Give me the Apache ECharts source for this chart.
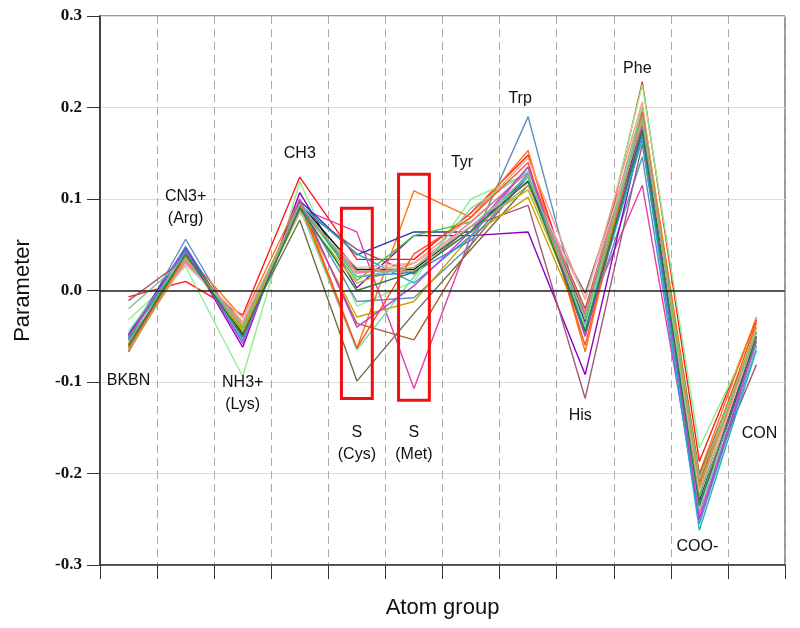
<!DOCTYPE html>
<html>
<head>
<meta charset="utf-8">
<script src="https://cdn.jsdelivr.net/npm/echarts@6/dist/echarts.min.js"></script>
<style>
  html, body { margin: 0; padding: 0; background: #fff; }
  #chart { width: 800px; height: 628px; }
</style>
</head>
<body>
<div id="chart"></div>
<script>
// atom groups along x
var groups = ['BKBN', 'CN3+ (Arg)', 'NH3+ (Lys)', 'CH3', 'S (Cys)', 'S (Met)', 'Tyr', 'Trp', 'His', 'Phe', 'COO-', 'CON']

// y axis ticks
var yTicks = [-0.3, -0.2, -0.1, 0.0, 0.1, 0.2, 0.3]

// one parameter set per line
var set01 = [-0.007, 0.010, -0.027, 0.124, 0.034, 0.034, 0.085, 0.148, -0.040, 0.228, -0.187, -0.032]
var set02 = [-0.032, 0.026, -0.094, 0.119, -0.017, 0.010, 0.100, 0.128, -0.030, 0.225, -0.172, -0.040]
var set03 = [-0.067, 0.040, -0.045, 0.077, -0.099, -0.025, 0.045, 0.115, -0.003, 0.185, -0.215, -0.055]
var set04 = [-0.050, 0.035, -0.040, 0.090, 0.064, -0.107, 0.060, 0.135, -0.030, 0.115, -0.240, -0.060]
var set05 = [-0.055, 0.056, -0.050, 0.095, -0.012, -0.008, 0.050, 0.190, -0.045, 0.146, -0.255, -0.060]
var set06 = [-0.050, 0.045, -0.062, 0.107, 0.003, 0.060, 0.060, 0.064, -0.092, 0.175, -0.245, -0.050]
var set07 = [-0.011, 0.035, -0.035, 0.090, 0.045, 0.018, 0.070, 0.093, -0.118, 0.160, -0.230, -0.081]
var set08 = [-0.060, 0.040, -0.030, 0.100, -0.063, 0.109, 0.080, 0.153, -0.067, 0.200, -0.200, -0.029]
var set09 = [-0.058, 0.038, -0.040, 0.095, -0.036, -0.054, 0.050, 0.125, -0.020, 0.190, -0.202, -0.045]
var set10 = [-0.048, 0.047, -0.050, 0.098, 0.039, 0.064, 0.064, 0.125, -0.035, 0.180, -0.230, -0.050]
var set11 = [-0.055, 0.042, -0.045, 0.092, 0.011, 0.060, 0.075, 0.130, -0.050, 0.190, -0.225, -0.040]
var set12 = [-0.050, 0.045, -0.048, 0.095, 0.023, 0.023, 0.070, 0.119, -0.025, 0.180, -0.220, -0.045]
var set13 = [-0.062, 0.036, -0.045, 0.088, -0.029, -0.012, 0.060, 0.102, -0.045, 0.190, -0.220, -0.040]
var set14 = [-0.065, 0.033, -0.042, 0.085, 0.008, 0.030, 0.070, 0.110, -0.038, 0.195, -0.210, -0.050]
var set15 = [-0.052, 0.043, -0.055, 0.094, 0.040, 0.008, 0.060, 0.128, -0.045, 0.165, -0.262, -0.065]
var set16 = [-0.058, 0.030, -0.035, 0.090, 0.019, 0.030, 0.080, 0.145, -0.010, 0.206, -0.235, -0.040]
var set17 = [-0.060, 0.032, -0.040, 0.090, 0.019, 0.025, 0.075, 0.130, -0.025, 0.200, -0.245, -0.055]
var set18 = [-0.050, 0.028, -0.030, 0.085, 0.025, 0.030, 0.070, 0.120, -0.008, 0.185, -0.220, -0.050]
var set19 = [-0.053, 0.048, -0.052, 0.092, 0.015, 0.020, 0.055, 0.125, -0.040, 0.170, -0.250, -0.060]
var set20 = [-0.045, 0.040, -0.050, 0.090, -0.065, 0.015, 0.090, 0.130, -0.040, 0.200, -0.240, -0.060]
var set21 = [-0.063, 0.038, -0.040, 0.095, -0.063, 0.040, 0.080, 0.140, -0.060, 0.195, -0.210, -0.035]
var set22 = [-0.050, 0.045, -0.058, 0.100, -0.040, 0.005, 0.065, 0.135, -0.050, 0.180, -0.250, -0.055]
var set23 = [-0.066, 0.035, -0.038, 0.088, 0.021, 0.021, 0.065, 0.115, -0.030, 0.185, -0.215, -0.045]
var set24 = [-0.020, 0.035, -0.040, 0.095, 0.015, 0.025, 0.070, 0.125, -0.030, 0.190, -0.205, -0.045]
var set25 = [-0.060, 0.040, -0.050, 0.090, 0.000, 0.020, 0.065, 0.120, -0.045, 0.175, -0.235, -0.050]

// highlighted sulfur groups: [group index, top, bottom]
var sulfurBoxes = [[4, 0.090, -0.118], [5, 0.127, -0.120]]

var lineSets = [set01, set02, set03, set04, set05, set06, set07, set08, set09, set10, set11, set12, set13,
  set14, set15, set16, set17, set18, set19, set20, set21, set22, set23, set24, set25]
var colors = ['#ff1a1a', '#8ef08e', '#6e6e4a', '#e23fae', '#5b8fc0', '#9000c0', '#a05878', '#ff7410', '#a5602c',
  '#3030b0', '#30d030', '#111111', '#d0a000', '#b5b520', '#20b0c0', '#f4a080', '#ff70a0', '#f0b0c0',
  '#4080e0', '#70e0a0', '#ff5020', '#c040e0', '#c0a060', '#80c080', '#208040']

// group labels drawn inside the plot: [group index, value, text, x shift px]
var groupLabels = [
  [0, -0.098, 'BKBN', 0],
  [1, 0.091, 'CN3+\n(Arg)', 0],
  [2, -0.113, 'NH3+\n(Lys)', 0],
  [3, 0.150, 'CH3', 0],
  [4, -0.167, 'S\n(Cys)', 0],
  [5, -0.167, 'S\n(Met)', 0],
  [6, 0.140, 'Tyr', -9],
  [7, 0.210, 'Trp', -8],
  [8, -0.137, 'His', -5],
  [9, 0.243, 'Phe', -5],
  [10, -0.280, 'COO-', -2],
  [11, -0.156, 'CON', 3]
]

var chart = echarts.init(document.getElementById('chart'))

var series = lineSets.map(function (d, i) {
  return {
    type: 'line',
    data: d,
    symbol: 'none',
    lineStyle: { color: colors[i], width: 1.4 },
    itemStyle: { color: colors[i] },
    z: 3
  }
})

// zero line
series[0].markLine = {
  silent: true,
  symbol: 'none',
  label: { show: false },
  lineStyle: { color: '#222', width: 1.5, type: 'solid' },
  data: [{ yAxis: 0 }]
}

series.push({
  type: 'custom',
  data: sulfurBoxes,
  z: 5,
  renderItem: function (params, api) {
    var top = api.coord([api.value(0), api.value(1)])
    var bot = api.coord([api.value(0), api.value(2)])
    var w = api.size([1, 0])[0] * 0.54
    return {
      type: 'rect',
      shape: { x: top[0] - w / 2, y: top[1], width: w, height: bot[1] - top[1] },
      style: { fill: 'none', stroke: '#ee1111', lineWidth: 3 }
    }
  }
})

series.push({
  type: 'custom',
  data: groupLabels,
  z: 6,
  renderItem: function (params, api) {
    var p = api.coord([api.value(0), api.value(1)])
    var lab = groupLabels[params.dataIndex]
    return {
      type: 'text',
      x: p[0] + lab[3],
      y: p[1],
      style: {
        text: lab[2],
        textAlign: 'center',
        textVerticalAlign: 'middle',
        font: '16px "Liberation Sans", Arial, sans-serif',
        lineHeight: 22,
        fill: '#111'
      }
    }
  }
})

chart.setOption({
  animation: false,
  backgroundColor: '#fff',
  grid: {
    left: 100,
    right: 15,
    top: 16,
    bottom: 63,
    show: true,
    borderColor: '#333',
    borderWidth: 1
  },
  xAxis: {
    type: 'category',
    data: groups,
    boundaryGap: true,
    name: 'Atom group',
    nameLocation: 'middle',
    nameGap: 32,
    nameTextStyle: { fontSize: 22, color: '#111', fontFamily: 'Liberation Sans' },
    axisLine: { onZero: false, lineStyle: { color: '#333', width: 1.5 } },
    axisTick: { show: true, interval: 0, length: 14, lineStyle: { color: '#333' } },
    axisLabel: { show: false, interval: 0 },
    splitLine: { show: true, interval: 0, lineStyle: { color: '#aaa', type: [8, 5], width: 1 } }
  },
  yAxis: {
    type: 'value',
    min: yTicks[0],
    max: yTicks[yTicks.length - 1],
    interval: 0.1,
    name: 'Parameter',
    nameLocation: 'middle',
    nameRotate: 90,
    nameGap: 66,
    nameTextStyle: { fontSize: 22, color: '#111', fontFamily: 'Liberation Sans' },
    axisLine: { show: true, lineStyle: { color: '#444', width: 2 } },
    axisTick: { show: true, length: 13, lineStyle: { color: '#333' } },
    axisLabel: {
      margin: 18,
      fontSize: 17,
      fontWeight: 'bold',
      fontFamily: 'Liberation Serif',
      color: '#111',
      formatter: function (v) { return v.toFixed(1) }
    },
    splitLine: { show: true, lineStyle: { color: '#ddd', width: 1 } }
  },
  series: series
})
</script>
</body>
</html>
